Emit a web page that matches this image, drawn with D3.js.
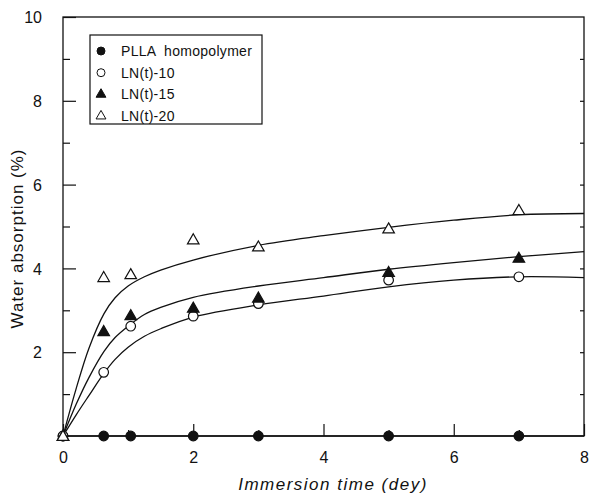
<!DOCTYPE html>
<html>
<head>
<meta charset="utf-8">
<script src="https://cdn.jsdelivr.net/npm/d3@7"></script>
<style>
  body { margin: 0; background: #fff; }
  text { font-family: Arial, "Liberation Sans", Helvetica, sans-serif; fill: #111; }
</style>
</head>
<body>
<div id="chart"></div>
<script>
/* DATA */
const days = [0, 0.625, 1.04, 2, 3, 5, 7];
const plla = [0, 0, 0, 0, 0, 0, 0];
const ln10 = [0, 1.52, 2.62, 2.86, 3.16, 3.72, 3.8];
const ln15 = [0, 2.5, 2.88, 3.06, 3.3, 3.91, 4.25];
const ln20 = [0, 3.79, 3.86, 4.69, 4.52, 4.95, 5.39];

// fitted curves
const fitX  = [0, 0.2, 0.4, 0.63, 0.8, 1, 1.25, 1.5, 2, 3, 4, 5, 6, 7, 8];
const fit10 = [0, 0.5, 0.97, 1.5, 1.83, 2.12, 2.38, 2.56, 2.84, 3.13, 3.34, 3.56, 3.72, 3.8, 3.78];
const fit15 = [0, 0.75, 1.4, 2.02, 2.35, 2.62, 2.9, 3.07, 3.31, 3.58, 3.78, 3.98, 4.14, 4.28, 4.4];
const fit20 = [0, 1.12, 2.1, 2.92, 3.3, 3.58, 3.8, 3.96, 4.2, 4.55, 4.78, 4.98, 5.15, 5.28, 5.31];

const xTicks = [0, 2, 4, 6, 8];
const yTicks = [2, 4, 6, 8, 10];
const legendLabels = ["PLLA  homopolymer", "LN(t)-10", "LN(t)-15", "LN(t)-20"];

/* LAYOUT */
const width = 591, height = 496;
const margin = { top: 17, right: 7, bottom: 60, left: 63 };

const svg = d3.select("#chart").append("svg")
  .attr("width", width)
  .attr("height", height);

const xScale = d3.scaleLinear().domain([0, 8]).range([margin.left, width - margin.right]);
const yScale = d3.scaleLinear().domain([0, 10]).range([height - margin.bottom, margin.top]);

// frame
svg.append("rect")
  .attr("x", xScale(0)).attr("y", yScale(10))
  .attr("width", xScale(8) - xScale(0))
  .attr("height", yScale(0) - yScale(10))
  .attr("fill", "none").attr("stroke", "#111").attr("stroke-width", 1.3);

// axes (ticks point inwards)
const xAxis = d3.axisBottom(xScale).tickValues(xTicks).tickSize(-12).tickPadding(16)
  .tickFormat(d3.format("d"));
const xG = svg.append("g").attr("transform", `translate(0,${yScale(0)})`).call(xAxis);

const yAxis = d3.axisLeft(yScale).tickValues(yTicks).tickSize(-13).tickPadding(21)
  .tickFormat(d3.format("d"));
const yG = svg.append("g").attr("transform", `translate(${xScale(0)},0)`).call(yAxis);

// minor ticks
svg.append("g").attr("transform", `translate(0,${yScale(0)})`)
  .call(d3.axisBottom(xScale).tickValues([1, 3, 5, 7]).tickSize(-6).tickFormat(""));
svg.append("g").attr("transform", `translate(${xScale(0)},0)`)
  .call(d3.axisLeft(yScale).tickValues([1, 3, 5, 7, 9]).tickSize(-7).tickFormat(""));
svg.append("g").attr("transform", `translate(${xScale(8)},0)`)
  .call(d3.axisRight(yScale).tickValues([1, 2, 3, 4, 5, 6, 7, 8, 9]).tickSize(-4).tickFormat(""));

svg.selectAll(".domain").remove();
svg.selectAll(".tick line").attr("stroke", "#111").attr("stroke-width", 1.2);
xG.selectAll("text").attr("font-size", 16).attr("fill", "#111");
yG.selectAll("text").attr("font-size", 16).attr("fill", "#111").attr("dy", "0.36em");

// axis titles
svg.append("text")
  .attr("x", 333)
  .attr("y", 490)
  .attr("text-anchor", "middle")
  .attr("font-size", 17)
  .attr("font-style", "italic")
  .attr("letter-spacing", 1.5)
  .text("Immersion time (dey)");

svg.append("text")
  .attr("transform", `translate(23,${(yScale(0) + yScale(10)) / 2 + 12}) rotate(-90)`)
  .attr("text-anchor", "middle")
  .attr("font-size", 17)
  .attr("letter-spacing", 1)
  .text("Water absorption (%)");

// fitted curves
const line = d3.line()
  .x(d => xScale(d[0]))
  .y(d => yScale(d[1]))
  .curve(d3.curveCatmullRom.alpha(0.5));

[fit10, fit15, fit20].forEach(ys => {
  svg.append("path")
    .datum(fitX.map((x, i) => [x, ys[i]]))
    .attr("d", line)
    .attr("fill", "none")
    .attr("stroke", "#111")
    .attr("stroke-width", 1.3);
});

// PLLA line along the baseline
svg.append("path")
  .datum([[0, 0], [8, 0]])
  .attr("d", d3.line().x(d => xScale(d[0])).y(d => yScale(d[1])))
  .attr("stroke", "#111").attr("stroke-width", 1.3);

// markers
const tri = d3.symbol().type(d3.symbolTriangle).size(58);
const triLegend = d3.symbol().type(d3.symbolTriangle).size(42);

function drawSeries(values, kind) {
  const pts = days.map((x, i) => [x, values[i]]);
  const g = svg.append("g");
  if (kind === "circleFill" || kind === "circleOpen") {
    g.selectAll("circle").data(pts).join("circle")
      .attr("cx", d => xScale(d[0]))
      .attr("cy", d => yScale(d[1]))
      .attr("r", 4.8)
      .attr("fill", kind === "circleFill" ? "#111" : "#fff")
      .attr("stroke", "#111")
      .attr("stroke-width", 1.2);
  } else {
    g.selectAll("path").data(pts).join("path")
      .attr("d", tri)
      .attr("transform", d => `translate(${xScale(d[0])},${yScale(d[1]) + 1})`)
      .attr("fill", kind === "triFill" ? "#111" : "#fff")
      .attr("stroke", "#111")
      .attr("stroke-width", 1.2);
  }
}
drawSeries(plla, "circleFill");
drawSeries(ln10, "circleOpen");
drawSeries(ln15, "triFill");
drawSeries(ln20, "triOpen");

// legend
const legend = svg.append("g");
legend.append("rect")
  .attr("x", 90).attr("y", 35)
  .attr("width", 172).attr("height", 89)
  .attr("fill", "#fff").attr("stroke", "#111").attr("stroke-width", 1.2);

const kinds = ["circleFill", "circleOpen", "triFill", "triOpen"];
const rows = legend.selectAll("g.row").data(legendLabels).join("g")
  .attr("class", "row")
  .attr("transform", (d, i) => `translate(101,${51 + i * 21.7})`);

rows.each(function(d, i) {
  const r = d3.select(this);
  const k = kinds[i];
  if (k.startsWith("circle")) {
    r.append("circle").attr("r", 4)
      .attr("fill", k === "circleFill" ? "#111" : "#fff")
      .attr("stroke", "#111").attr("stroke-width", 1);
  } else {
    r.append("path").attr("d", triLegend)
      .attr("fill", k === "triFill" ? "#111" : "#fff")
      .attr("stroke", "#111").attr("stroke-width", 1);
  }
  r.append("text")
    .attr("x", 20).attr("dy", "0.36em")
    .attr("font-size", 14)
    .attr("letter-spacing", 0.3)
    .style("white-space", "pre")
    .text(d);
});
</script>
</body>
</html>
